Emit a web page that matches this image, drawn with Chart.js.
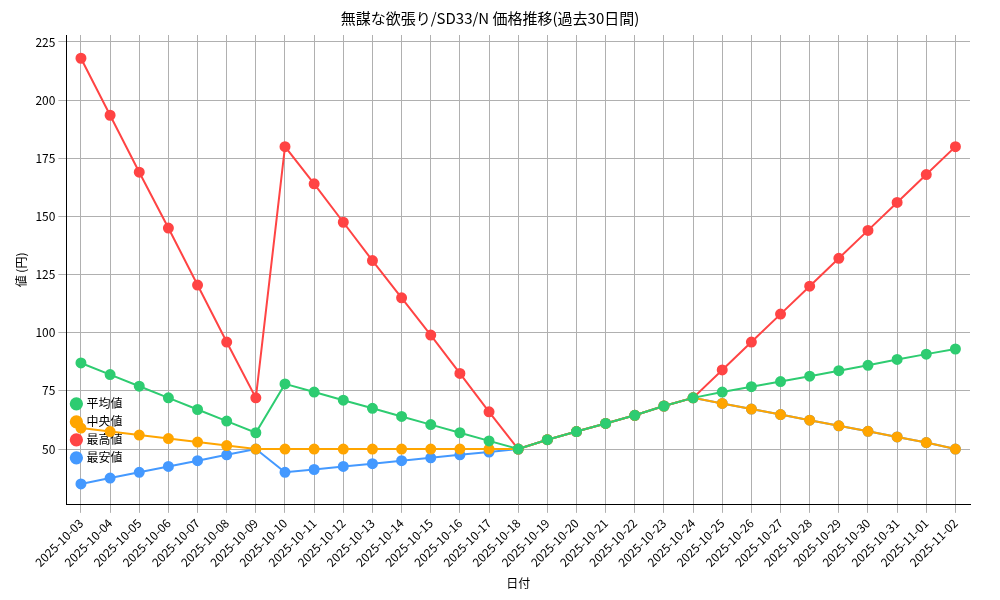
<!DOCTYPE html>
<html><head><meta charset="utf-8">
<script src="https://cdn.jsdelivr.net/npm/chart.js@4/dist/chart.umd.min.js"></script>
<style>body{margin:0;background:#fff}</style>
</head><body><canvas id="c" width="1000" height="600"></canvas>
<script>
var dates = [];
for (var d = 3; d <= 31; d++) dates.push("2025-10-" + (d < 10 ? "0" + d : d));
dates.push("2025-11-01", "2025-11-02");
var avgVals = [87,82,77,72,67,62,57,78,74.5,71,67.5,64,60.5,57,53.5,50,54,57.5,61,64.5,68.5,72,74.5,76.8,79,81.3,83.7,86,88.5,90.8,93];
var medVals = [59,57.5,56,54.5,53,51.5,50,50,50,50,50,50,50,50,50,50,54,57.5,61,64.5,68.5,72,69.6,67.2,64.8,62.4,60,57.6,55.2,52.8,50];
var maxVals = [218,193.5,169,145,120.5,96,72,180,164,147.5,131,115,99,82.5,66,50,54,57.5,61,64.5,68.5,72,84,96,108,120,132,144,156,168,180];
var minVals = [35,37.5,40,42.5,45,47.5,50,40,41.2,42.5,43.7,45,46.2,47.5,48.7,50,54,57.5,61,64.5,68.5,72,69.6,67.2,64.8,62.4,60,57.6,55.2,52.8,50];
var yTicks = [50,75,100,125,150,175,200,225];

function ds(label, data, color){
  return {label: label, data: data, borderColor: color, backgroundColor: color,
    borderWidth: 2, pointRadius: 4.5, pointHoverRadius: 4.5, tension: 0};
}
Chart.defaults.font.family = "'Noto Sans CJK JP', sans-serif";
Chart.defaults.color = "#000";
new Chart(document.getElementById("c"), {
  type: "line",
  data: { labels: dates, datasets: [
    ds("平均値", avgVals, "#2ecc71"),
    ds("中央値", medVals, "#ffa500"),
    ds("最高値", maxVals, "#ff4444"),
    ds("最安値", minVals, "#4499ff")
  ]},
  options: {
    responsive: false, animation: false,
    layout: {padding: {left: 10, right: 30, top: 5, bottom: 5}},
    plugins: {
      title: {display: true, text: "無謀な欲張り/SD33/N 価格推移(過去30日間)", font: {size: 15, weight: "normal"}, padding: {top: 4, bottom: 8}},
      legend: {position: "chartArea", align: "end",
        labels: {usePointStyle: true, pointStyle: "circle", boxWidth: 8, boxHeight: 8, font: {size: 12}, padding: 6}}
    },
    scales: {
      x: {offset: true, grid: {color: "#b0b0b0", offset: false}, border: {color: "#000"},
        title: {display: true, text: "日付", font: {size: 12}},
        ticks: {maxRotation: 45, minRotation: 45, autoSkip: false, font: {size: 12}}},
      y: {min: 26, max: 228, grid: {color: "#b0b0b0"}, border: {color: "#000"},
        title: {display: true, text: "値 (円)", font: {size: 12}},
        afterBuildTicks: function(s){ s.ticks = yTicks.map(function(v){return {value: v};}); },
        ticks: {autoSkip: false, font: {size: 12}}}
    }
  }
});
</script></body></html>
